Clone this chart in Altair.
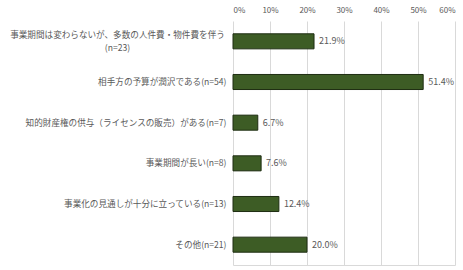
import altair as alt
import pandas as pd

categories = [
    "事業期間は変わらないが、多数の人件費・物件費を伴う\n(n=23)",
    "相手方の予算が潤沢である(n=54)",
    "知的財産権の供与（ライセンスの販売）がある(n=7)",
    "事業期間が長い(n=8)",
    "事業化の見通しが十分に立っている(n=13)",
    "その他(n=21)",
]
values = [0.219, 0.514, 0.067, 0.076, 0.124, 0.200]
tick_values = [0, 0.1, 0.2, 0.3, 0.4, 0.5, 0.6]

df = pd.DataFrame({"cat": categories, "val": values})

FONT = "Noto Sans CJK JP"
GRAY = "#595959"
MULTI = "indexof(datum.label, '\\n') >= 0"

y_enc = alt.Y(
    "cat:N",
    sort=categories,
    title=None,
    scale=alt.Scale(paddingInner=0.63, paddingOuter=0.315),
    axis=alt.Axis(
        labelExpr="split(datum.label, '\\n')",
        labelAlign={"condition": {"test": MULTI, "value": "center"}, "value": "right"},
        labelPadding={"condition": {"test": MULTI, "value": 116}, "value": 7},
        labelOffset={"condition": {"test": MULTI, "value": -6.5}, "value": 0},
        labelFont=FONT,
        labelFontSize=8.6,
        labelColor=GRAY,
        labelLimit=400,
        ticks=False,
        domain=False,
        labelLineHeight=13,
    ),
)

x_scale = alt.Scale(domain=[0, 0.6])

bars = alt.Chart(df).mark_bar(color="#3d5c25", stroke="#1e2d12", strokeWidth=1).encode(
    x=alt.X(
        "val:Q",
        scale=x_scale,
        title=None,
        axis=alt.Axis(
            orient="top",
            values=tick_values,
            format=".0%",
            labelFont=FONT,
            labelFontSize=8,
            labelColor=GRAY,
            ticks=False,
            domain=False,
            grid=True,
            gridColor="#d9d9d9",
            labelPadding=7,
        ),
    ),
    y=y_enc,
)

text = alt.Chart(df).mark_text(
    align="left", dx=5, font=FONT, fontSize=9, color=GRAY
).encode(
    x=alt.X(
        "val:Q",
        scale=x_scale,
        title=None,
        axis=alt.Axis(
            orient="bottom",
            labels=False,
            ticks=False,
            grid=False,
            domain=True,
            domainColor="#d9d9d9",
        ),
    ),
    y=alt.Y("cat:N", sort=categories),
    text=alt.Text("val:Q", format=".1%"),
)

chart = (
    alt.layer(bars, text)
    .resolve_axis(x="independent")
    .properties(
        width=222,
        height=244,
        autosize=alt.AutoSizeParams(type="none"),
        padding={"left": 233, "top": 21, "right": 8, "bottom": 5},
        background="white",
    )
    .configure_view(stroke=None)
)

chart.save("out.html", embed_options={"renderer": "svg", "actions": False})
